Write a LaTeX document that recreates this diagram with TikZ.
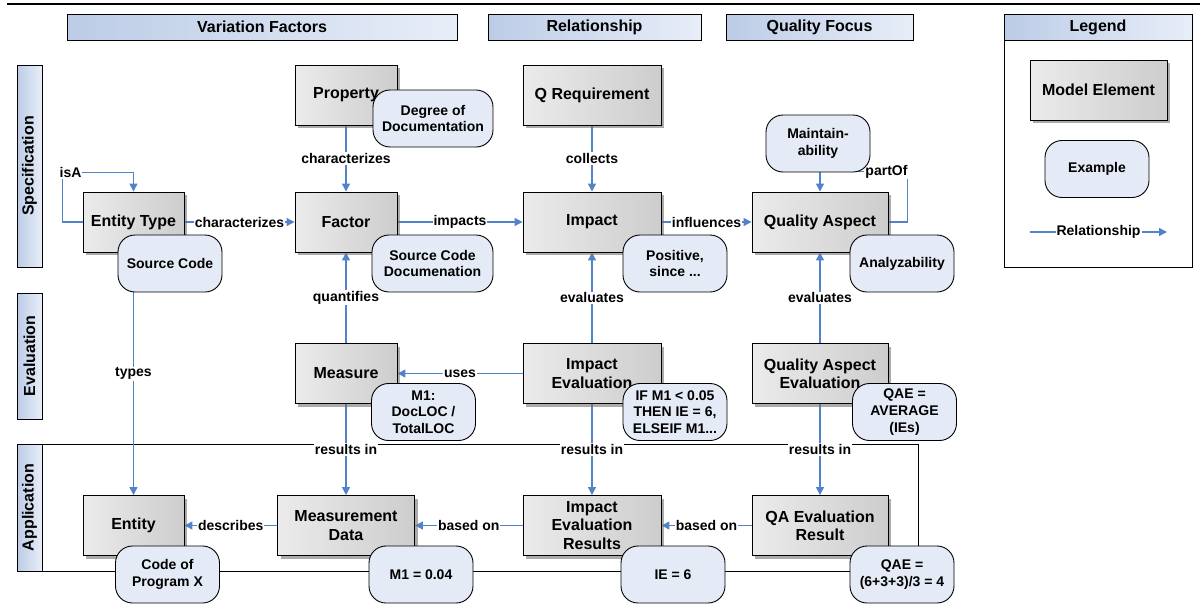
\documentclass[tikz,border=0pt]{standalone}
\usepackage{fontspec}
\setmainfont{Liberation Sans}
\usetikzlibrary{arrows.meta,shadows,backgrounds}
\definecolor{elA}{HTML}{EBEBEB}
\definecolor{elB}{HTML}{CDCDCD}
\definecolor{exf}{HTML}{E4EAF6}
\definecolor{hdA}{HTML}{BCCCE6}
\definecolor{hdB}{HTML}{E8EEF8}
\definecolor{relc}{HTML}{5282CA}
\tikzset{
  elem/.style={draw=black,line width=0.9pt,left color=elA,right color=elB,align=center,inner sep=2pt,
    minimum height=60pt,font=\fontsize{16}{18.4}\selectfont\bfseries,
    drop shadow={shadow xshift=3pt,shadow yshift=-3pt,fill=black!55,opacity=.6}},
  ex/.style={draw=black,line width=0.9pt,fill=exf,rounded corners=17pt,align=center,inner sep=2pt,
    minimum width=104pt,minimum height=57pt,font=\fontsize{14}{16.7}\selectfont\bfseries},
  hdr/.style={draw=black,line width=0.9pt,left color=hdA,right color=hdB,minimum height=26pt,inner sep=0pt,
    font=\fontsize{16}{18}\selectfont\bfseries},
  lane/.style={hdr,rotate=90,minimum height=25pt},
  rel/.style={-{Triangle[length=8pt,width=8pt]},line width=1.2pt,draw=relc},
  lbl/.style={fill=white,inner sep=1pt,font=\fontsize{14}{16}\selectfont\bfseries},
  frm/.style={draw=black,line width=0.8pt},
}
\begin{document}
\begin{tikzpicture}[x=1pt,y=-1pt]
\useasboundingbox (0,0) rectangle (1200,616);
\draw[line width=2.2pt] (7,4) -- (1200,4);

\node[hdr,minimum width=390pt] (hvar) at (262,27) {Variation Factors};
\node[hdr,minimum width=213pt] (hrel) at (594.5,27) {Relationship};
\node[hdr,minimum width=187pt] (hqf) at (819.5,27) {Quality Focus};
\draw[frm] (1004,14) rectangle (1192,267);
\node[hdr,minimum width=188pt] (hleg) at (1098,27) {Legend};

\node[lane,minimum width=202pt] (lspec) at (29.5,166) {Specification};
\node[lane,minimum width=126pt] (leval) at (29.5,356) {Evaluation};
\node[lane,minimum width=127pt] (lapp) at (29.5,507.5) {Application};

\node[elem,minimum width=102pt] (prop) at (346,95) {Property};
\node[elem,minimum width=101pt] (etype) at (133.5,222) {Entity Type};
\node[elem,minimum width=102pt] (factor) at (346,222) {Factor};
\node[elem,minimum width=138pt] (qreq) at (592,95) {Q Requirement};
\node[elem,minimum width=138pt] (impact) at (592,222) {Impact};
\node[elem,minimum width=136pt] (qasp) at (820,222) {Quality Aspect};
\node[elem,minimum width=102pt] (measure) at (346,373.5) {Measure};
\node[elem,minimum width=138pt] (impev) at (592,373.5) {Impact\\Evaluation};
\node[elem,minimum width=136pt] (qaev) at (820,373.5) {Quality Aspect\\Evaluation};
\node[elem,minimum width=101pt] (entity) at (133.5,525.5) {Entity};
\node[elem,minimum width=137pt] (mdata) at (346,525.5) {Measurement\\Data};
\node[elem,minimum width=138pt] (ier) at (592,525.5) {Impact\\Evaluation\\Results};
\node[elem,minimum width=136pt] (qaer) at (820,525.5) {QA Evaluation\\Result};
\node[elem,minimum width=137pt] (model) at (1098.5,90) {Model Element};

\node[ex,minimum width=120pt] (exdeg) at (433,118.5) {Degree of\\Documentation};
\node[ex] (exsrc) at (170,263.5) {Source Code};
\node[ex,minimum width=121pt] (exscd) at (432.5,263.5) {Source Code\\Documenation};
\node[ex] (expos) at (675,263.5) {Positive,\\since ...};
\node[ex] (exmain) at (818,143.5) {Maintain-\\ability};
\node[ex] (exana) at (902,263.5) {Analyzability};
\node[ex] (exlgd) at (1097,169) {Example};
\node[ex] (exm1) at (423.5,412) {M1:\\DocLOC /\\TotalLOC};
\node[ex] (exif) at (675,412) {IF M1 < 0.05\\THEN IE = 6,\\ELSEIF M1...};
\node[ex] (exqae) at (904.5,412) {QAE =\\AVERAGE\\(IEs)};
\node[ex] (excode) at (167.5,574.5) {Code of\\Program X};
\node[ex] (exval) at (421,574.5) {M1 = 0.04};
\node[ex] (exie) at (673,574.5) {IE = 6};
\node[ex] (exqae2) at (902,574.5) {QAE =\\(6+3+3)/3 = 4};

\coordinate (lga) at (1030,232);
\coordinate (lgb) at (1167,232);
\draw[rel] (lga) -- node[lbl]{Relationship} (lgb);

\begin{scope}[on background layer]
\draw[frm] (17,444) rectangle (918,571);
\draw[rel] (etype.west) -- ++(-20,0) |- node[lbl,pos=.5,xshift=8pt]{isA} ([yshift=19pt]etype.north) -- (etype.north);
\draw[rel] (qasp.east) -- ++(19,0) |- node[lbl,pos=.62]{partOf} ([yshift=20pt]qasp.north) -- (qasp.north);
\draw[rel] (etype) -- node[lbl]{characterizes} (factor);
\draw[rel] (prop) -- node[lbl]{characterizes} (factor);
\draw[rel] (factor) -- node[lbl]{impacts} (impact);
\draw[rel] (qreq) -- node[lbl]{collects} (impact);
\draw[rel] (impact) -- node[lbl]{influences} (qasp);
\draw[rel] (measure) -- node[lbl]{quantifies} (factor);
\draw[rel] (impev) -- node[lbl]{evaluates} (impact);
\draw[rel] (qaev) -- node[lbl]{evaluates} (qasp);
\draw[rel] (impev) -- node[lbl]{uses} (measure);
\draw[rel] (etype) -- node[lbl]{types} (entity);
\draw[rel] (measure) -- node[lbl]{results in} (mdata);
\draw[rel] (impev) -- node[lbl]{results in} (ier);
\draw[rel] (qaev) -- node[lbl]{results in} (qaer);
\draw[rel] (mdata) -- node[lbl]{describes} (entity);
\draw[rel] (ier) -- node[lbl]{based on} (mdata);
\draw[rel] (qaer) -- node[lbl]{based on} (ier);
\end{scope}
\end{tikzpicture}
\end{document}
